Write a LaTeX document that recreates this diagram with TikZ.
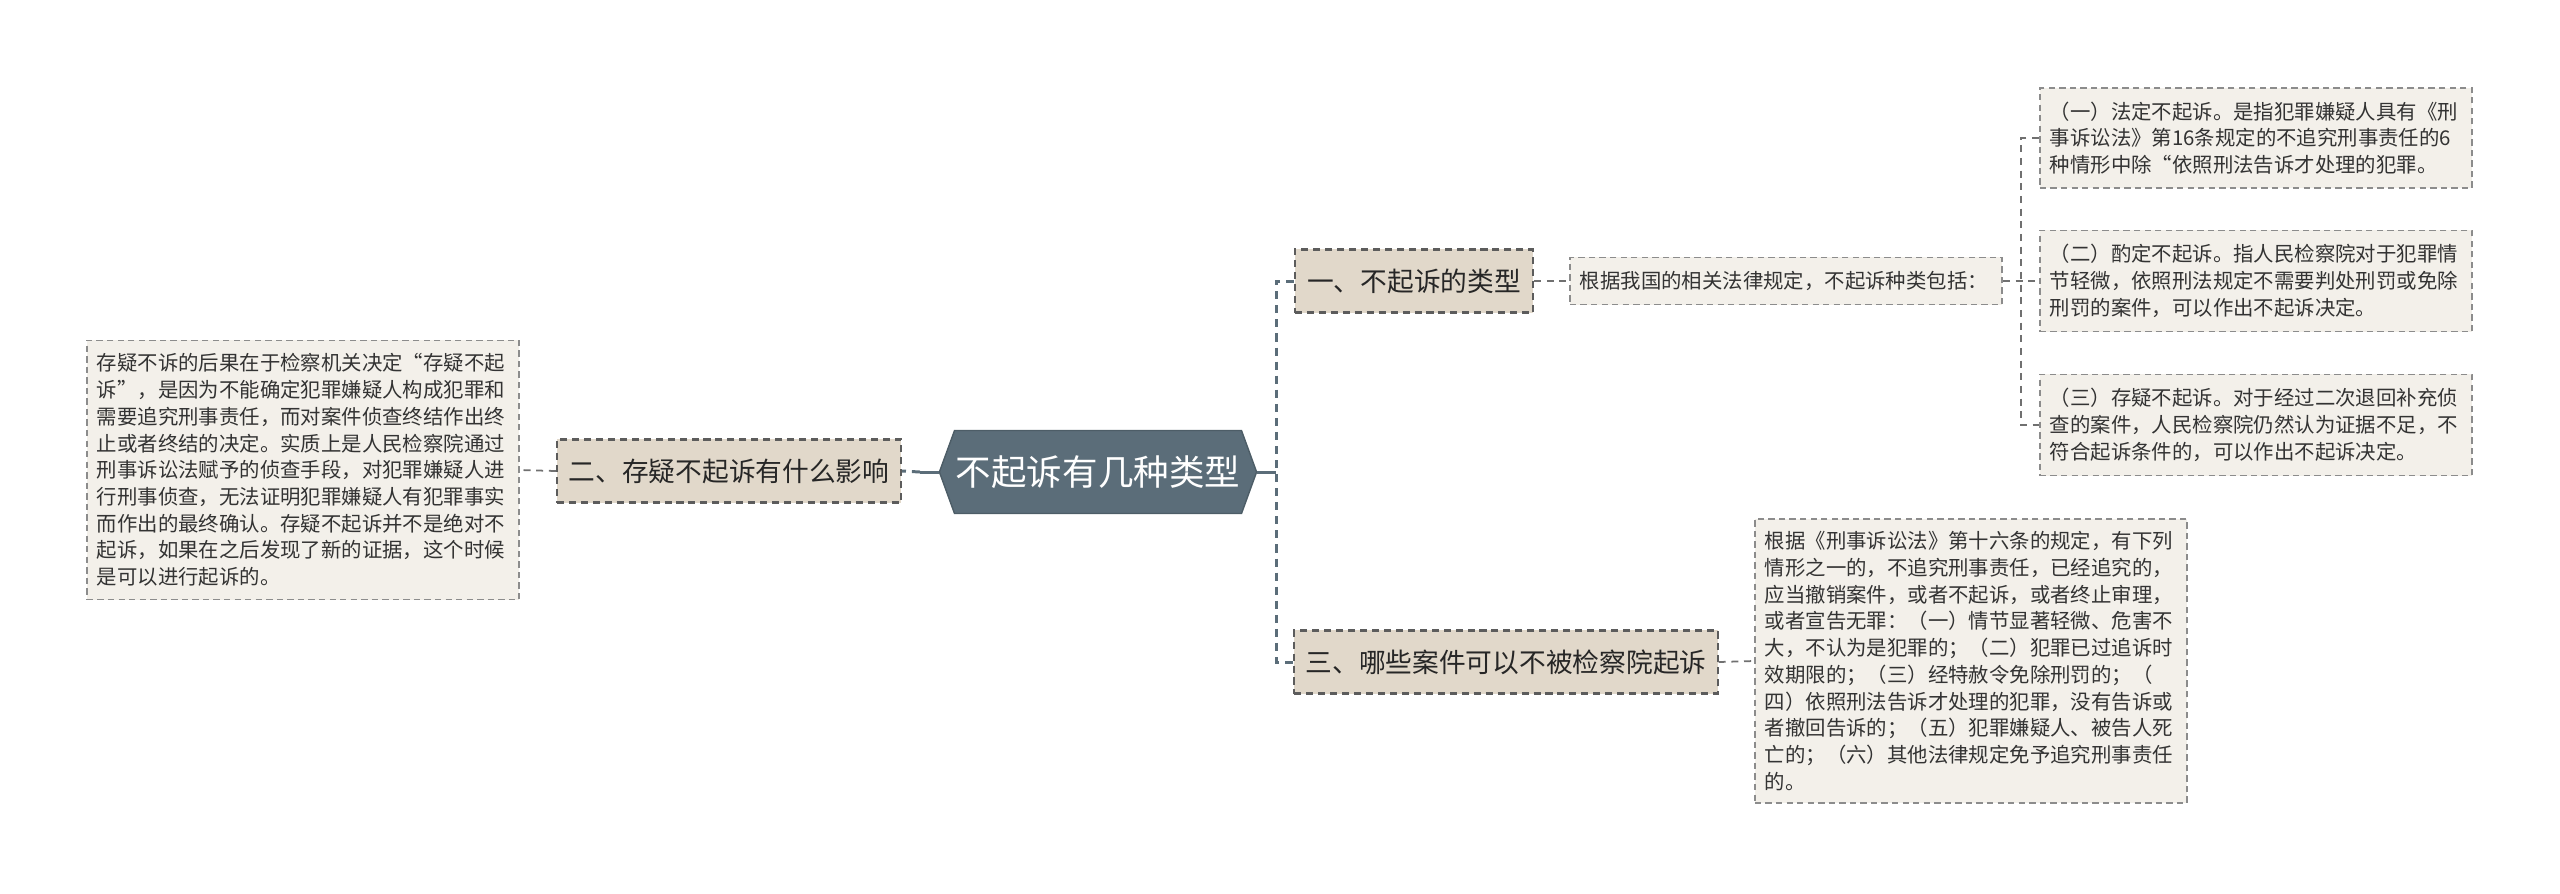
\documentclass[tikz,border=0pt]{standalone}
\usepackage{fontspec}
\setmainfont{Noto Sans CJK SC}
\usetikzlibrary{shapes.symbols}
\definecolor{rootfill}{HTML}{5B6D79}
\definecolor{branchfill}{HTML}{E1D8CA}
\definecolor{leaffill}{HTML}{F3F0EA}
\definecolor{leafdraw}{HTML}{8C8C8C}
\definecolor{branchdraw}{HTML}{5C5C5C}
\definecolor{inktext}{HTML}{333333}

\begin{document}
\begin{tikzpicture}[
    x=0.01cm, y=-0.01cm,
    root/.style={shape=signal, signal to=west and east, signal pointer angle=140,
                 fill=rootfill, draw=rootfill!85!black, line width=0.4pt,
                 text=white, font=\fontsize{10.1}{12}\selectfont,
                 minimum width=3.17cm, minimum height=0.83cm, inner sep=0pt},
    branch/.style={draw=branchdraw, fill=branchfill, line width=0.6pt,
                   dash pattern=on 2pt off 1.4pt, text=black!85,
                   font=\fontsize{7.6}{9}\selectfont, inner sep=0pt,
                   minimum height=0.63cm},
    leaf/.style={draw=leafdraw, fill=leaffill, line width=0.5pt,
                 dash pattern=on 1.8pt off 1.2pt, text=inktext, align=left,
                 font=\fontsize{5.8}{7.6}\selectfont, inner xsep=0.1cm,
                 inner ysep=0.05cm, text width=4.12cm},
    mainsolid/.style={draw=rootfill, line width=0.85pt},
    maindash/.style={draw=rootfill, line width=0.85pt, dash pattern=on 2.3pt off 1.7pt},
    leafline/.style={draw=leafdraw!80!black, line width=0.5pt, dash pattern=on 2pt off 1.6pt},
]
\useasboundingbox (0,0) rectangle (2560,893);
% centre
\node[root] (root) at (1098,472) {不起诉有几种类型};
% first level
\node[branch, minimum width=2.38cm] (n1) at (1414,281) {一、不起诉的类型};
\node[branch, minimum width=3.44cm] (n2) at (729,471) {二、存疑不起诉有什么影响};
\node[branch, minimum width=4.23cm] (n3) at (1506,662) {三、哪些案件可以不被检察院起诉};
% leaves
\node[leaf, minimum height=0.47cm] (sub) at (1786,281)
   {根据我国的相关法律规定，不起诉种类包括：};
\node[leaf, minimum height=1.00cm] (b1) at (2256,138)
   {（一）法定不起诉。是指犯罪嫌疑人具有《刑\\事诉讼法》第16条规定的不追究刑事责任的6\\种情形中除“依照刑法告诉才处理的犯罪。};
\node[leaf, minimum height=1.01cm] (b2) at (2256,281)
   {（二）酌定不起诉。指人民检察院对于犯罪情\\节轻微，依照刑法规定不需要判处刑罚或免除\\刑罚的案件，可以作出不起诉决定。};
\node[leaf, minimum height=1.01cm] (b3) at (2256,425)
   {（三）存疑不起诉。对于经过二次退回补充侦\\查的案件，人民检察院仍然认为证据不足，不\\符合起诉条件的，可以作出不起诉决定。};
\node[leaf, minimum height=2.59cm] (lft) at (303,470)
   {存疑不诉的后果在于检察机关决定“存疑不起\\诉”，是因为不能确定犯罪嫌疑人构成犯罪和\\需要追究刑事责任，而对案件侦查终结作出终\\止或者终结的决定。实质上是人民检察院通过\\刑事诉讼法赋予的侦查手段，对犯罪嫌疑人进\\行刑事侦查，无法证明犯罪嫌疑人有犯罪事实\\而作出的最终确认。存疑不起诉并不是绝对不\\起诉，如果在之后发现了新的证据，这个时候\\是可以进行起诉的。};
\node[leaf, minimum height=2.84cm] (bot) at (1971,661)
   {根据《刑事诉讼法》第十六条的规定，有下列\\情形之一的，不追究刑事责任，已经追究的，\\应当撤销案件，或者不起诉，或者终止审理，\\或者宣告无罪：（一）情节显著轻微、危害不\\大，不认为是犯罪的；（二）犯罪已过追诉时\\效期限的；（三）经特赦令免除刑罚的；（\\四）依照刑法告诉才处理的犯罪，没有告诉或\\者撤回告诉的；（五）犯罪嫌疑人、被告人死\\亡的；（六）其他法律规定免予追究刑事责任\\的。};
% connectors
\coordinate (busR) at (1276,472);
\coordinate (busL) at (920,472);
\coordinate (busS) at (2021,281);
\draw[mainsolid] (root.east) -- (busR);
\draw[maindash] (n1.west) -- (n1.west -| busR) -- (n3.west -| busR) -- (n3.west);
\draw[mainsolid] (root.west) -- (busL);
\draw[maindash] (busL) -- (n2.east);
\draw[leafline] (n2.west) -- (lft.east);
\draw[leafline] (n1.east) -- (sub.west);
\draw[leafline] (sub.east) -- (b2.west);
\draw[leafline] (b1.west) -- (b1.west -| busS) -- (b3.west -| busS) -- (b3.west);
\draw[leafline] (n3.east) -- (bot.west);
\end{tikzpicture}
\end{document}
